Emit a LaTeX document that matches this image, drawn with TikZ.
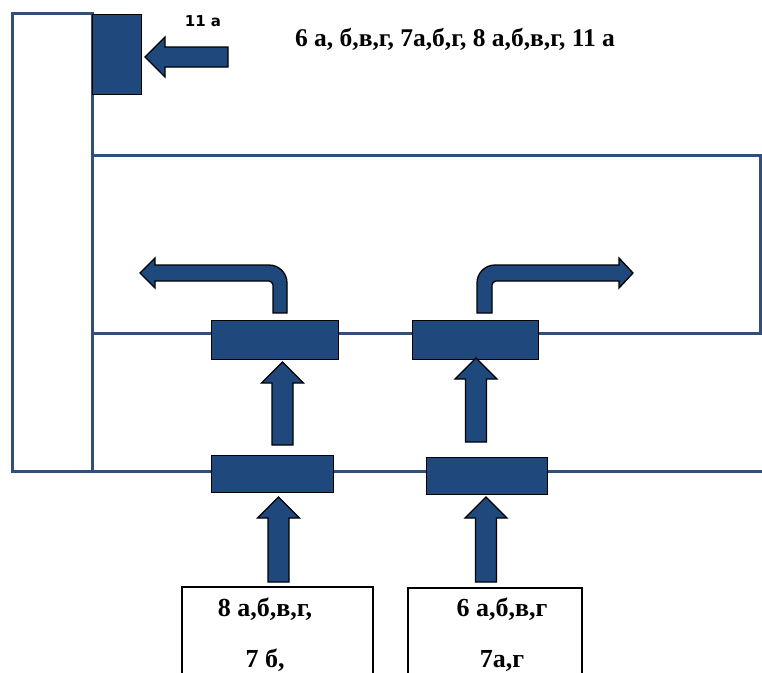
\documentclass[tikz,border=0pt]{standalone}
\usepackage{fontspec}
\setmainfont{Liberation Serif}
\newfontfamily\labelfont{DejaVu Sans}
\usetikzlibrary{calc}

\definecolor{navyfill}{RGB}{31,73,125}
\definecolor{framecol}{RGB}{48,80,122}

\tikzset{
  frame/.style={draw=framecol, line width=3pt},
  block/.style={draw=black, fill=navyfill, line width=1pt, inner sep=0pt},
  classbox/.style={draw=black, line width=2.2pt, fill=white, inner sep=0pt},
  fatarrow/.style={draw=black, fill=navyfill, line width=1.3pt, line join=miter},
  classtext/.style={font=\bfseries\fontsize{26}{30}\selectfont, anchor=base, inner sep=0pt}
}

\newcommand{\fatup}[2]{%
  \path[fatarrow] let \p1=(#1), \p2=(#2) in
    (\x1,\y1) -- (\x1+21pt,\y1-21pt) -- (\x1+10.5pt,\y1-21pt) -- (\x1+10.5pt,\y2)
    -- (\x1-10.5pt,\y2) -- (\x1-10.5pt,\y1-21pt) -- (\x1-21pt,\y1-21pt) -- cycle;}

\begin{document}
\begin{tikzpicture}[x=1pt, y=-1pt]
        \useasboundingbox (0,0) rectangle (762,672);
        \clip (0,0) rectangle (762,672);

        \draw[frame] (12,13) rectangle (92,471);
        \draw[frame] (92,155) -- (760,155) -- (760,333) -- (92,333);
        \draw[frame] (12,471) -- (765,471);

        \node[block, minimum width=49pt, minimum height=80pt] (blkTop) at (116.5,54) {};
        \node[block, minimum width=127pt, minimum height=38.5pt] (blkA) at (274.5,339.75) {};
        \node[block, minimum width=126pt, minimum height=38.5pt] (blkB) at (475,339.75) {};
        \node[block, minimum width=122pt, minimum height=37pt] (blkC) at (272,473.5) {};
        \node[block, minimum width=121pt, minimum height=37pt] (blkD) at (486.5,475.5) {};

        \node[classbox, minimum width=191pt, minimum height=120pt, anchor=north] (boxA) at (277.5,586) {};
        \node[classbox, minimum width=174pt, minimum height=120pt, anchor=north] (boxB) at (495,587) {};

        \coordinate (tA) at (282.5,362);
        \coordinate (bA) at (282.5,445);
        \coordinate (tB) at (476,358);
        \coordinate (bB) at (476,442);
        \coordinate (tC) at (278.5,497);
        \coordinate (bC) at (278.5,582);
        \coordinate (tD) at (486,497);
        \coordinate (bD) at (486,582);

        \fatup{tA}{bA}
        \fatup{tB}{bB}
        \fatup{tC}{bC}
        \fatup{tD}{bD}

        \path[fatarrow] (145,57) -- (165,37) -- (165,47) -- (228,47) -- (228,67) -- (165,67) -- (165,77) -- cycle;

        \path[fatarrow] (273,313) -- (287,313) -- (287,283) .. controls (287,273) and (279,265) .. (269,265)
            -- (155,265) -- (155,258) -- (140,273) -- (155,288) -- (155,281) -- (269,281)
            .. controls (271,281) and (273,283) .. (273,285) -- cycle;
        \path[fatarrow] (477,313) -- (492,313) -- (492,285) .. controls (492,283) and (494,281) .. (496,281)
            -- (619,281) -- (619,288) -- (633,273) -- (619,258) -- (619,265) -- (495,265)
            .. controls (485,265) and (477,273) .. (477,283) -- cycle;

        \node[font=\labelfont\bfseries\fontsize{15}{18}\selectfont, inner sep=0pt] (lblTop) at (203,21) {11 а};
        \node[font=\bfseries\fontsize{25.5}{30}\selectfont, anchor=base, inner sep=0pt] (lblAll) at (455,46) {6 а, б,в,г, 7а,б,г, 8 а,б,в,г, 11 а};

        \node[classtext] (txtA1) at (265,616) {8 а,б,в,г,};
        \node[classtext] (txtA2) at (265,667) {7 б,};
        \node[classtext] (txtB1) at (502,616) {6 а,б,в,г};
        \node[classtext] (txtB2) at (502,667) {7а,г};
    \end{tikzpicture}
\end{document}
